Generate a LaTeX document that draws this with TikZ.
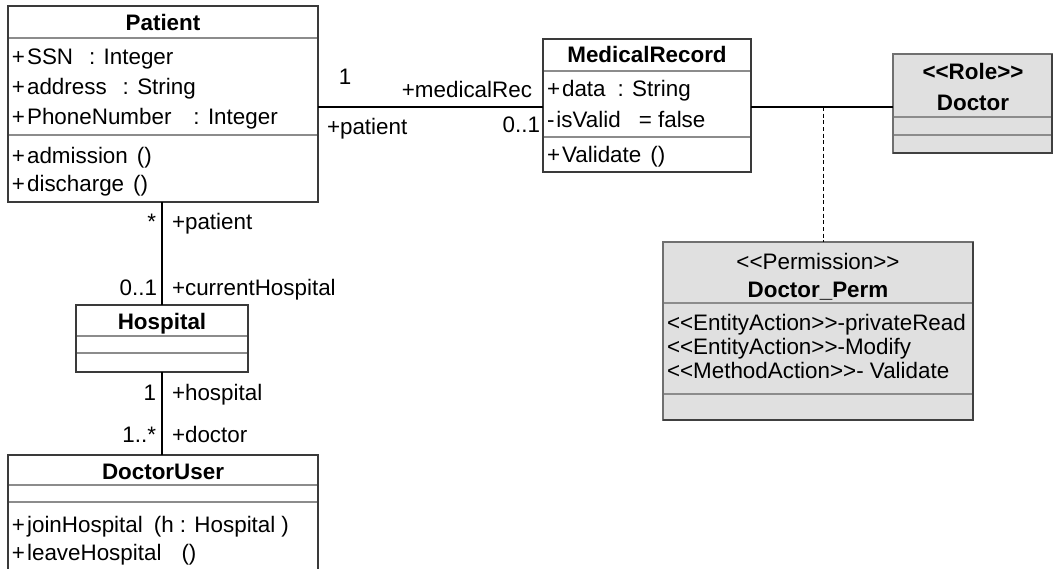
\documentclass[tikz,border=0pt]{standalone}
\usepackage{fontspec}
\setmainfont{Liberation Sans}
\newlength\pxu \setlength\pxu{0.75pt}
\newcommand{\gp}[1]{\hspace*{#1\pxu}}
\newcommand{\pl}{+\gp{2}}
\definecolor{boxline}{HTML}{3A3A3A}
\definecolor{sepline}{HTML}{8C8C8C}
\definecolor{grayfill}{HTML}{E0E0E0}
\definecolor{shadowline}{HTML}{404040}
\tikzset{
  umlbox/.style={draw=boxline, line width=0.9pt, fill=white, anchor=north west, inner sep=0pt, outer sep=0pt},
  rolebox/.style={umlbox, fill=grayfill, draw=sepline!80!black},
  sepl/.style={draw=sepline, line width=0.9pt},
  assoc/.style={draw=black, line width=0.9pt},
  txt/.style={inner sep=0pt, outer sep=0pt, font=\fontsize{16.8}{20}\selectfont},
  attr/.style={txt, anchor=base west},
  ttl/.style={txt, anchor=base, font=\fontsize{16.8}{20}\selectfont\bfseries},
  stereo/.style={txt, anchor=base},
  lblw/.style={txt, anchor=base west},
  lble/.style={txt, anchor=base east},
}
\begin{document}
\begin{tikzpicture}[x=0.75pt,y=-0.75pt]
\useasboundingbox (0,0) rectangle (1055,568);
\clip (0,0) rectangle (1055,568);

% ---------- Patient ----------
\node[umlbox, minimum width=232.5pt, minimum height=147pt] (patient) at (8,6) {};
\draw[sepl] (9,38) -- (317,38);
\draw[sepl] (9,135) -- (317,135);
\node[ttl] (patientT) at (163,30) {Patient};
\node[attr] (pa1) at (12,64) {\pl SSN\gp{16}: Integer};
\node[attr] (pa2) at (12,94) {\pl address\gp{16}: String};
\node[attr] (pa3) at (12,124) {\pl PhoneNumber\gp{22}: Integer};
\node[attr] (po1) at (12,163) {\pl admission\gp{9}()};
\node[attr] (po2) at (12,191) {\pl discharge\gp{9}()};

% ---------- MedicalRecord ----------
\node[umlbox, minimum width=156pt, minimum height=99.75pt] (medrec) at (543,39) {};
\draw[sepl] (544,71) -- (750,71);
\draw[sepl] (544,137) -- (750,137);
\node[ttl] (medrecT) at (647,62) {MedicalRecord};
\node[attr] (ma1) at (547,96) {\pl data\gp{12}: String};
\node[attr] (ma2) at (547,127) {-\gp{2}isValid\gp{18}= false};
\node[attr] (mo1) at (547,162) {\pl Validate\gp{9}()};

% ---------- Doctor (Role) ----------
\node[rolebox, minimum width=119.25pt, minimum height=74.25pt] (doctor) at (893,54) {};
\draw[sepl] (894,117) -- (1051,117);
\draw[sepl] (894,135) -- (1051,135);
\draw[draw=shadowline, line width=1.6pt] (doctor.south west) -- (doctor.south east) -- (doctor.north east);
\node[ttl] (doctorS) at (973,79) {<{}<Role>{}>};
\node[ttl] (doctorT) at (973,110) {Doctor};

% ---------- Doctor_Perm ----------
\node[rolebox, minimum width=232.5pt, minimum height=133.5pt] (perm) at (663,242) {};
\draw[sepl] (664,303) -- (972,303);
\draw[sepl] (664,394) -- (972,394);
\draw[draw=shadowline, line width=1.6pt] (perm.south west) -- (perm.south east) -- (perm.north east);
\node[stereo] (permS) at (818,269) {<{}<Permission>{}>};
\node[ttl] (permT) at (818,297) {Doctor\_Perm};
\node[attr] (pe1) at (667,330) {<{}<EntityAction>{}>-privateRead};
\node[attr] (pe2) at (667,354) {<{}<EntityAction>{}>-Modify};
\node[attr] (pe3) at (667,378) {<{}<MethodAction>{}>- Validate};

% ---------- Hospital ----------
\node[umlbox, minimum width=129pt, minimum height=50.25pt] (hospital) at (76,305) {};
\draw[sepl] (77,336) -- (247,336);
\draw[sepl] (77,353) -- (247,353);
\node[ttl] (hospitalT) at (162,329) {Hospital};

% ---------- DoctorUser ----------
\node[umlbox, minimum width=232.5pt, minimum height=90pt] (docuser) at (8,455) {};
\draw[sepl] (9,485) -- (317,485);
\draw[sepl] (9,502) -- (317,502);
\node[ttl] (docuserT) at (163,479) {DoctorUser};
\node[attr] (du1) at (12,532) {\pl joinHospital\gp{11}(h : Hospital\gp{6})};
\node[attr] (du2) at (12,560) {\pl leaveHospital\gp{20}()};

% ---------- connectors ----------
\coordinate (yPM) at (0,107);
\coordinate (xPH) at (162,0);
\coordinate (assocmid) at (823,107);
\draw[assoc] (patient.east |- yPM) -- (medrec.west |- yPM);
\draw[assoc] (medrec.east |- yPM) -- (doctor.west |- yPM);
\draw[assoc, dashed, line width=0.6pt, dash pattern=on 3pt off 2pt] (assocmid) -- (perm.north -| assocmid);
\draw[assoc] (patient.south -| xPH) -- (hospital.north -| xPH);
\draw[assoc] (hospital.south -| xPH) -- (docuser.north -| xPH);

% ---------- association labels ----------
\node[stereo] (l1) at (345,84) {1};
\node[lble] (l2) at (532,97) {+medicalRec};
\node[lblw] (l3) at (327,134) {+patient};
\node[lble] (l4) at (540,132) {0..1};
\node[lble] (l5) at (156,229) {*};
\node[lblw] (l6) at (172,229) {+patient};
\node[lble] (l7) at (157,295) {0..1};
\node[lblw] (l8) at (172,295) {+currentHospital};
\node[lble] (l9) at (156,400) {1};
\node[lblw] (l10) at (172,400) {+hospital};
\node[lble] (l11) at (156,442) {1..*};
\node[lblw] (l12) at (172,442) {+doctor};
\end{tikzpicture}
\end{document}
